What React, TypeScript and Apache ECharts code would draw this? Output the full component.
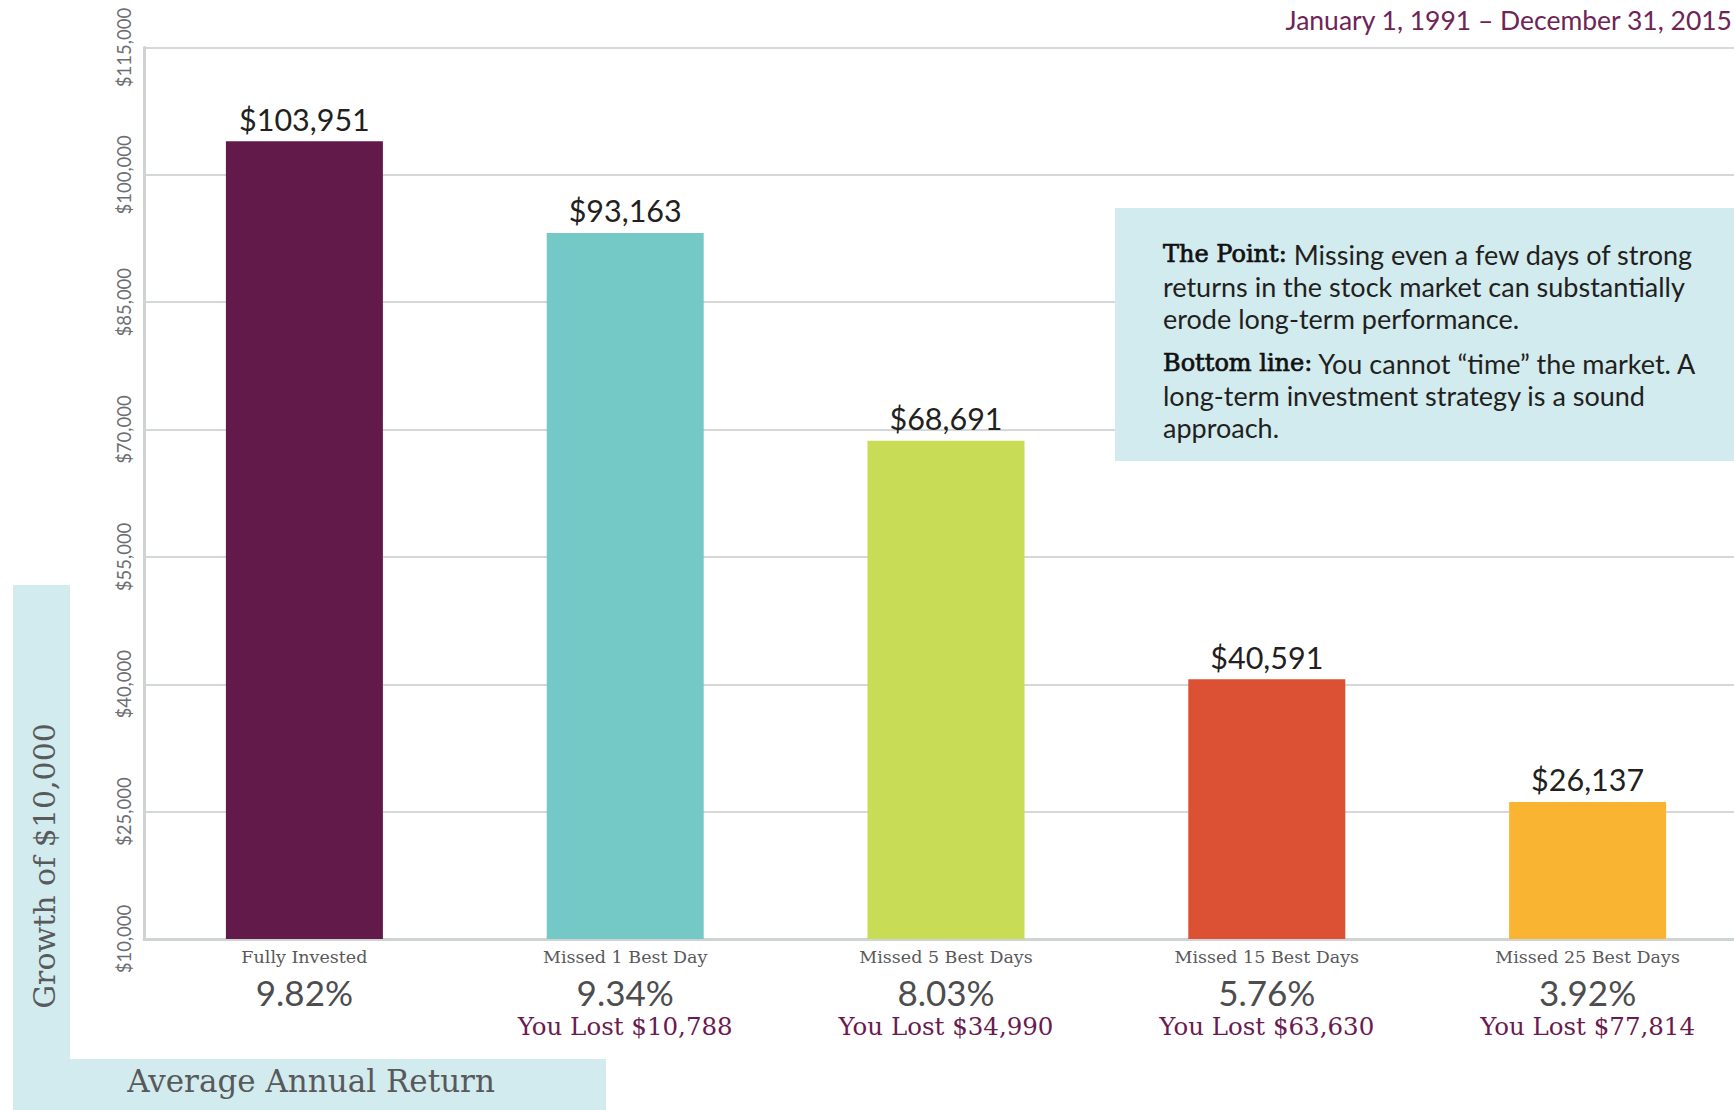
import React, { useEffect, useRef } from 'react';
import * as echarts from 'echarts';

const categories = ['Fully Invested', 'Missed 1 Best Day', 'Missed 5 Best Days', 'Missed 15 Best Days', 'Missed 25 Best Days'];
const growthValues = [103951, 93163, 68691, 40591, 26137];
const annualReturns = ['9.82%', '9.34%', '8.03%', '5.76%', '3.92%'];
const amountLost: (number | null)[] = [null, 10788, 34990, 63630, 77814];
const barColors = ['#611a4a', '#74c9c7', '#c9dc55', '#dc5133', '#f9b531'];
const yMin = 10000;
const yMax = 115000;
const yStep = 15000;

const dateRange = 'January 1, 1991 – December 31, 2015';
const yTitle = 'Growth of $10,000';
const xTitle = 'Average Annual Return';
const pointText = '{b|The Point:} Missing even a few days of strong\nreturns in the stock market can substantially\nerode long-term performance.';
const bottomText = '{b|Bottom line:} You cannot “time” the market. A\nlong-term investment strategy is a sound\napproach.';

const fmt = (v: number) => '$' + v.toLocaleString('en-US');

const SANS = 'Lato, "Open Sans", sans-serif';
const SLAB = '"DejaVu Serif", serif';
const BOX = '#d2ebee';

export default function App() {
  const ref = useRef<HTMLDivElement>(null);
  useEffect(() => {
    if (!ref.current) return;
    const chart = echarts.init(ref.current, null, { renderer: 'svg' });
    const boldSlab = { fontFamily: SLAB, fontSize: 24, lineHeight: 32, fill: '#111111', stroke: '#111111', lineWidth: 0.7 };
    const option: any = {
      animation: false,
      backgroundColor: '#ffffff',
      grid: { left: 144, width: 1604, top: 47.5, bottom: 171, containLabel: false, outerBoundsMode: 'none' },
      xAxis: {
        type: 'category',
        data: categories,
        axisLine: { lineStyle: { color: '#cfd3d3', width: 3 } },
        axisTick: { show: false },
        axisLabel: {
          interval: 0,
          margin: 6,
          formatter: (value: string, idx: number) => {
            const lost = amountLost[idx];
            return `{n|${value}}\n{p|${annualReturns[idx]}}` + (lost ? `\n{l|You Lost ${fmt(lost)}}` : '');
          },
          rich: {
            n: { fontFamily: SLAB, fontSize: 17.5, color: '#58595b', lineHeight: 24 },
            p: { fontFamily: SANS, fontSize: 35, color: '#4d4d4f', lineHeight: 46 },
            l: { fontFamily: SLAB, fontSize: 24.5, color: '#6b1a50', lineHeight: 22 },
          },
        },
      },
      yAxis: {
        type: 'value',
        min: yMin,
        max: yMax,
        interval: yStep,
        axisLine: { show: true, lineStyle: { color: '#cfd3d3', width: 3 } },
        axisTick: { show: false },
        splitLine: { lineStyle: { color: '#d5d8d8', width: 2 } },
        axisLabel: {
          rotate: 90,
          margin: 11,
          color: '#6d6e71',
          fontFamily: SANS,
          fontSize: 18.5,
          formatter: (v: number) => fmt(v),
        },
      },
      series: [
        {
          type: 'bar',
          clip: true,
          barWidth: 157,
          data: growthValues.map((v, i) => ({ value: v, itemStyle: { color: barColors[i] } })),
          label: {
            show: true,
            position: 'top',
            distance: 7,
            formatter: (p: any) => fmt(p.value),
            fontFamily: SANS,
            fontSize: 30.5,
            color: '#231f20',
          },
        },
      ],
      graphic: [
        { type: 'rect', z: 1, shape: { x: 13, y: 585, width: 57, height: 525 }, style: { fill: BOX } },
        { type: 'rect', z: 1, shape: { x: 13, y: 1059, width: 593, height: 51 }, style: { fill: BOX } },
        { type: 'rect', z: 5, shape: { x: 1115, y: 208, width: 619, height: 253 }, style: { fill: BOX } },
        {
          type: 'text', z: 6, x: 44, y: 866, rotation: Math.PI / 2,
          style: { text: yTitle, align: 'center', verticalAlign: 'middle', fontFamily: SLAB, fontSize: 30, fill: '#58595b' },
        },
        {
          type: 'text', z: 6, x: 311, y: 1081,
          style: { text: xTitle, align: 'center', verticalAlign: 'middle', fontFamily: SLAB, fontSize: 31, fill: '#58595b' },
        },
        {
          type: 'text', z: 6, x: 1732, y: 20,
          style: { text: dateRange, align: 'right', verticalAlign: 'middle', fontFamily: SANS, fontSize: 26.5, fill: '#6e2556' },
        },
        {
          type: 'text', z: 6, x: 1163, y: 238,
          style: {
            text: pointText, align: 'left', verticalAlign: 'top', fontFamily: SANS, fontSize: 27, lineHeight: 32, fill: '#231f20',
            rich: { b: boldSlab },
          },
        },
        {
          type: 'text', z: 6, x: 1163, y: 347,
          style: {
            text: bottomText, align: 'left', verticalAlign: 'top', fontFamily: SANS, fontSize: 27, lineHeight: 32, fill: '#231f20',
            rich: { b: boldSlab },
          },
        },
      ],
    };
    chart.setOption(option);
    return () => chart.dispose();
  }, []);
  return <div ref={ref} style={{ position: 'absolute', left: 0, top: 0, width: 1734, height: 1110 }} />;
}
